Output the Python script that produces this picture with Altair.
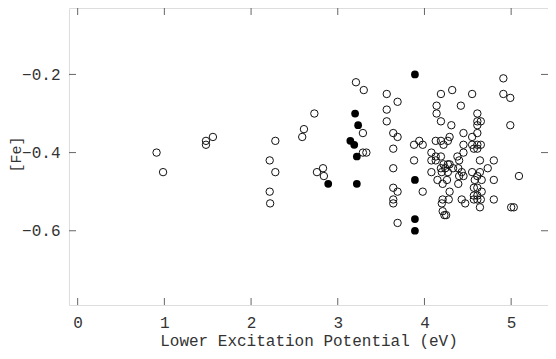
import altair as alt
import pandas as pd

# Open circles: (excitation potential, [Fe])
open_x = [0.91, 0.985, 1.48, 1.48, 1.56, 2.28, 2.215, 2.28, 2.215, 2.22,
          2.59, 2.61, 2.73, 2.76, 2.83, 2.84, 3.21, 3.30, 3.29, 3.29, 3.33,
          3.565, 3.69, 3.565, 3.565, 3.64, 3.69, 3.64, 3.64, 3.64, 3.69, 3.64, 3.64, 3.69,
          3.88, 3.94, 3.98, 3.88, 3.98,
          4.19, 4.32, 4.55, 4.91, 4.91, 4.99,
          4.14, 4.42, 4.14, 4.19, 4.31,
          4.61, 4.61, 4.65, 4.61, 4.99,
          4.45, 4.61, 4.55, 4.29,
          4.13, 4.19, 4.27, 4.22, 4.45, 4.55, 4.61, 4.65,
          4.57, 4.61,
          4.08, 4.45,
          4.13, 4.19, 4.38,
          4.08, 4.13, 4.40, 4.64, 4.80,
          4.22, 4.27, 4.29,
          4.19, 4.24, 4.33, 4.39, 4.73,
          4.08, 4.20, 4.27, 4.43, 4.55, 4.64,
          4.40, 4.45, 4.61, 5.09,
          4.15, 4.26, 4.58, 4.66, 4.80,
          4.21, 4.39,
          4.57, 4.61,
          4.29, 4.66,
          4.57, 4.61,
          4.57, 4.61, 4.65, 4.21, 4.28, 4.43, 4.80,
          4.20, 4.47,
          4.64, 5.00, 5.03,
          4.21, 4.23, 4.25]
open_y = [-0.40, -0.45, -0.37, -0.38, -0.36, -0.37, -0.42, -0.45, -0.50, -0.53,
          -0.36, -0.34, -0.30, -0.45, -0.44, -0.46, -0.22, -0.24, -0.35, -0.40, -0.40,
          -0.25, -0.27, -0.29, -0.32, -0.35, -0.36, -0.39, -0.44, -0.49, -0.50, -0.52, -0.53, -0.58,
          -0.38, -0.37, -0.38, -0.42, -0.50,
          -0.25, -0.24, -0.25, -0.21, -0.25, -0.26,
          -0.28, -0.28, -0.30, -0.32, -0.33,
          -0.30, -0.32, -0.32, -0.33, -0.33,
          -0.35, -0.35, -0.36, -0.36,
          -0.37, -0.37, -0.37, -0.38, -0.38, -0.38, -0.38, -0.38,
          -0.39, -0.39,
          -0.40, -0.40,
          -0.41, -0.41, -0.41,
          -0.42, -0.42, -0.42, -0.42, -0.42,
          -0.43, -0.43, -0.43,
          -0.44, -0.44, -0.44, -0.44, -0.44,
          -0.45, -0.45, -0.45, -0.45, -0.45, -0.45,
          -0.46, -0.46, -0.46, -0.46,
          -0.47, -0.47, -0.47, -0.47, -0.47,
          -0.48, -0.48,
          -0.49, -0.49,
          -0.50, -0.50,
          -0.51, -0.51,
          -0.52, -0.52, -0.52, -0.52, -0.52, -0.52, -0.52,
          -0.53, -0.53,
          -0.54, -0.54, -0.54,
          -0.55, -0.56, -0.56]

# Filled circles
filled_x = [2.89, 3.20, 3.235, 3.145, 3.19, 3.22, 3.22, 3.89, 3.89, 3.89, 3.89]
filled_y = [-0.48, -0.30, -0.33, -0.37, -0.38, -0.41, -0.48, -0.20, -0.47, -0.57, -0.60]

x_ticks = [0, 1, 2, 3, 4, 5]
y_ticks = [-0.2, -0.4, -0.6]

W, H = 479, 297
FONT = "Liberation Mono"
TL = 7

df_open = pd.DataFrame({"x": open_x, "y": open_y})
df_fill = pd.DataFrame({"x": filled_x, "y": filled_y})
df_xt = pd.DataFrame({"v": x_ticks})
df_yt = pd.DataFrame({"v": y_ticks})

xscale = alt.Scale(domain=[-0.1, 5.425], nice=False, zero=False)
yscale = alt.Scale(domain=[-0.79, -0.03], nice=False, zero=False)

xaxis = alt.Axis(values=x_ticks, format="d", ticks=False, domain=False, grid=False,
                 labelFont=FONT, labelFontSize=16, labelColor="#333", labelPadding=9,
                 title="Lower Excitation Potential (eV)", titleFont=FONT, titleFontSize=16,
                 titleFontWeight="normal", titleColor="#333", titleY=35,
                 titleBaseline="middle", titleAlign="center")
yaxis = alt.Axis(values=y_ticks, format=".1f", ticks=False, domain=False, grid=False,
                 labelFont=FONT, labelFontSize=16, labelColor="#333", labelPadding=9,
                 title="[Fe]", titleFont=FONT, titleFontSize=15, titleFontWeight="normal",
                 titleColor="#333", titleX=-54, titleY=146, titleAngle=270,
                 titleAlign="center", titleBaseline="middle")

opn = alt.Chart(df_open).mark_point(shape="circle", size=55, strokeWidth=1,
                                    color="#111", filled=False, opacity=1).encode(
    x=alt.X("x:Q", scale=xscale, axis=xaxis),
    y=alt.Y("y:Q", scale=yscale, axis=yaxis),
)
fil = alt.Chart(df_fill).mark_point(shape="circle", size=60, strokeWidth=1,
                                    color="#000", filled=True, opacity=1).encode(
    x=alt.X("x:Q", scale=xscale),
    y=alt.Y("y:Q", scale=yscale),
)

tick_style = dict(color="#666", strokeWidth=1)
bt = alt.Chart(df_xt).mark_rule(**tick_style).encode(
    x=alt.X("v:Q", scale=xscale), y=alt.value(H), y2=alt.value(H - TL))
tt = alt.Chart(df_xt).mark_rule(**tick_style).encode(
    x=alt.X("v:Q", scale=xscale), y=alt.value(0), y2=alt.value(TL))
lt = alt.Chart(df_yt).mark_rule(**tick_style).encode(
    y=alt.Y("v:Q", scale=yscale), x=alt.value(0), x2=alt.value(TL))
rt = alt.Chart(df_yt).mark_rule(**tick_style).encode(
    y=alt.Y("v:Q", scale=yscale), x=alt.value(W), x2=alt.value(W - TL))

chart = alt.layer(bt, tt, lt, rt, opn, fil).properties(
    width=W, height=H,
    autosize=alt.AutoSizeParams(type="none"),
    padding={"left": 61, "top": 0, "right": 0, "bottom": 45},
).configure_view(stroke="#444", strokeWidth=1.2).configure(background="white")

chart.save("out.html", embed_options={"renderer": "svg", "actions": False})
